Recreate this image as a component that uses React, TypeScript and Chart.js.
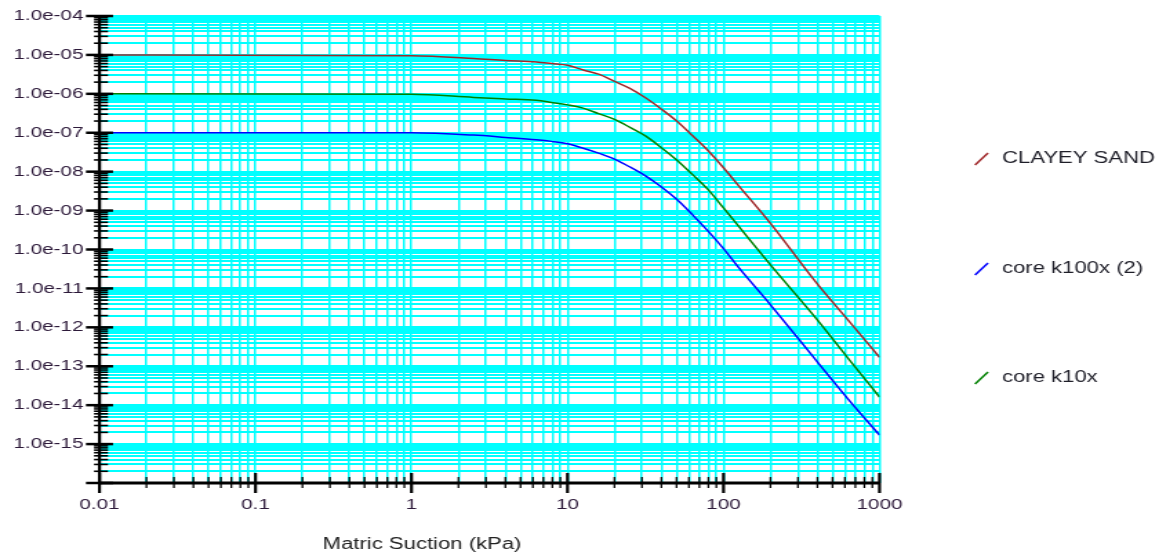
import { useEffect, useRef } from 'react';
import { Chart, registerables } from 'chart.js';

Chart.register(...registerables);

// ---- data ----
const seriesNames = ['CLAYEY SAND', 'core k100x (2)', 'core k10x'];
const seriesColors = ['#a0282a', '#0000ff', '#008000'];

// matric suction (kPa) at which the curves were read
const suction = [0.01, 1, 2.5, 4, 6.3, 7.9, 10, 12.6, 15.8, 20, 25.1, 31.6, 39.8, 50.1, 63.1, 79.4, 100, 126, 200, 398, 631, 1000];

const clayeySandK = [1.0e-5, 9.5e-6, 8.1e-6, 7.2e-6, 6.6e-6, 6.0e-6, 5.4e-6, 4.1e-6, 3.2e-6, 2.1e-6, 1.38e-6, 7.9e-7, 4.1e-7, 2.0e-7, 8.5e-8, 3.5e-8, 1.26e-8, 4.2e-9, 4.7e-10, 1.32e-11, 1.51e-12, 1.7e-13];
const coreK100xK = [1.0e-7, 1.0e-7, 8.7e-8, 7.6e-8, 6.6e-8, 6.0e-8, 5.2e-8, 4.0e-8, 3.0e-8, 2.1e-8, 1.32e-8, 7.8e-9, 4.1e-9, 1.95e-9, 7.9e-10, 3.0e-10, 1.05e-10, 3.3e-11, 3.8e-12, 1.32e-13, 1.41e-14, 1.7e-15];
const coreK10xK = [1.0e-6, 9.8e-7, 8.1e-7, 7.4e-7, 6.8e-7, 6.0e-7, 5.2e-7, 4.3e-7, 3.1e-7, 2.2e-7, 1.38e-7, 8.3e-8, 4.2e-8, 2.0e-8, 8.5e-9, 3.5e-9, 1.17e-9, 3.8e-10, 4.0e-11, 1.58e-12, 1.58e-13, 1.62e-14];

const xTickLabels = ['0.01', '0.1', '1', '10', '100', '1000'];
const yTickLabels = ['1.0e-04', '1.0e-05', '1.0e-06', '1.0e-07', '1.0e-08', '1.0e-09', '1.0e-10', '1.0e-11', '1.0e-12', '1.0e-13', '1.0e-14', '1.0e-15'];
const xAxisTitle = 'Matric Suction (kPa)';

// ---- layout ----
const W = 840;
const H = 553;
const SX = 1159 / W;
const PLOT_LEFT = 99.5 / SX;
const PLOT_RIGHT = 879.5 / SX;
const PLOT_TOP = 16;
const PLOT_BOTTOM = 483;
const LEGEND_Y = [159, 269, 378];
const FONT = "'Liberation Sans', Arial, sans-serif";

const expOf = (v: number) => Math.floor(Math.log10(v) + 1e-9);
const isIntMantissa = (v: number) => {
  const m = v / Math.pow(10, expOf(v));
  return Math.abs(m - Math.round(m)) < 1e-6;
};
const isPow10 = (v: number) => {
  const l = Math.log10(v);
  return Math.abs(l - Math.round(l)) < 1e-6;
};

const decor = {
  id: 'decor',
  afterDraw(chart: any) {
    const ctx = chart.ctx as CanvasRenderingContext2D;
    const { left, right, top, bottom } = chart.chartArea;
    const xs = chart.scales.x;
    const ys = chart.scales.y;
    ctx.save();
    ctx.strokeStyle = '#000';
    ctx.lineCap = 'butt';
    // y ticks
    ys.ticks.forEach((t: any) => {
      const p = ys.getPixelForValue(t.value);
      const maj = isPow10(t.value);
      ctx.lineWidth = maj ? 2.5 : 1.6;
      ctx.beginPath();
      ctx.moveTo(maj ? left - 9.8 : left - 4, p);
      ctx.lineTo(maj ? left + 9.8 : left + 6.2, p);
      ctx.stroke();
    });
    // x ticks
    xs.ticks.forEach((t: any) => {
      const p = xs.getPixelForValue(t.value);
      const maj = isPow10(t.value);
      ctx.lineWidth = maj ? 2.2 : 1.3;
      ctx.beginPath();
      ctx.moveTo(p, maj ? bottom - 10 : bottom - 6);
      ctx.lineTo(p, maj ? bottom + 10 : bottom + 5);
      ctx.stroke();
    });
    // axis lines
    ctx.lineWidth = 2.3;
    ctx.beginPath();
    ctx.moveTo(left, top);
    ctx.lineTo(left, bottom + 1.5);
    ctx.stroke();
    ctx.lineWidth = 3;
    ctx.beginPath();
    ctx.moveTo(left - 1, bottom);
    ctx.lineTo(right, bottom);
    ctx.stroke();
    // x axis title
    ctx.fillStyle = '#222';
    ctx.font = `16px ${FONT}`;
    ctx.textAlign = 'center';
    ctx.textBaseline = 'middle';
    ctx.fillText(xAxisTitle, 422 / SX, 545);
    // legend
    ctx.textAlign = 'left';
    chart.data.datasets.forEach((ds: any, i: number) => {
      const y = LEGEND_Y[i];
      ctx.strokeStyle = ds.borderColor;
      ctx.lineWidth = 1.5;
      ctx.beginPath();
      ctx.moveTo(975 / SX, y + 6);
      ctx.lineTo(988 / SX, y - 6);
      ctx.stroke();
      ctx.fillStyle = '#1e1e28';
      ctx.fillText(ds.label, 1002 / SX, y);
    });
    ctx.restore();
  },
};

export default function App() {
  const ref = useRef<HTMLCanvasElement | null>(null);
  useEffect(() => {
    document.body.style.margin = '0';
    const canvas = ref.current!;
    const mk = (ks: number[]) => suction.map((x, i) => ({ x, y: ks[i] }));
    const chart = new Chart(canvas, {
      type: 'line',
      data: {
        datasets: [
          { label: seriesNames[0], data: mk(clayeySandK), borderColor: seriesColors[0] },
          { label: seriesNames[1], data: mk(coreK100xK), borderColor: seriesColors[1] },
          { label: seriesNames[2], data: mk(coreK10xK), borderColor: seriesColors[2] },
        ].map((d) => ({ ...d, borderWidth: 1.5, pointRadius: 0, cubicInterpolationMode: 'monotone', fill: false })),
      },
      options: {
        responsive: false,
        devicePixelRatio: 1,
        animation: false,
        layout: { padding: { left: 0, top: PLOT_TOP, right: W - PLOT_RIGHT, bottom: 0 } },
        plugins: { legend: { display: false }, tooltip: { enabled: false } },
        scales: {
          x: {
            type: 'logarithmic',
            min: 0.01,
            max: 1000,
            border: { display: false },
            grid: { color: '#00ffff', lineWidth: 1.5, tickColor: 'rgba(0,0,0,0)', tickLength: 10 },
            ticks: {
              autoSkip: false,
              maxRotation: 0,
              minRotation: 0,
              padding: 3,
              color: '#2d1a3a',
              font: { family: FONT, size: 15 },
              callback: (v: any) => {
                const val = Number(v);
                if (!isPow10(val)) return '';
                return xTickLabels[Math.round(Math.log10(val)) + 2] ?? '';
              },
            },
            afterBuildTicks: (s: any) => {
              s.ticks = s.ticks.filter((t: any) => isIntMantissa(t.value));
            },
            afterFit: (s: any) => {
              s.height = H - PLOT_BOTTOM;
            },
          },
          y: {
            type: 'logarithmic',
            min: 1e-16,
            max: 1e-4,
            border: { display: false },
            grid: { color: '#00ffff', lineWidth: 2, tickColor: 'rgba(0,0,0,0)', tickLength: 10 },
            ticks: {
              autoSkip: false,
              padding: 1.6,
              color: '#2d1a3a',
              font: { family: FONT, size: 15 },
              callback: (v: any) => {
                const val = Number(v);
                if (!isPow10(val)) return '';
                const e = Math.round(Math.log10(val));
                return yTickLabels[-e - 4] ?? '';
              },
            },
            afterBuildTicks: (s: any) => {
              s.ticks = s.ticks.filter((t: any) => isIntMantissa(t.value));
            },
            afterFit: (s: any) => {
              s.width = PLOT_LEFT;
            },
          },
        },
      },
      plugins: [decor],
    } as any);
    return () => chart.destroy();
  }, []);
  return (
    <canvas
      ref={ref}
      width={W}
      height={H}
      style={{ position: 'absolute', left: 0, top: 0, width: '1159px', height: '553px', display: 'block' }}
    />
  );
}
